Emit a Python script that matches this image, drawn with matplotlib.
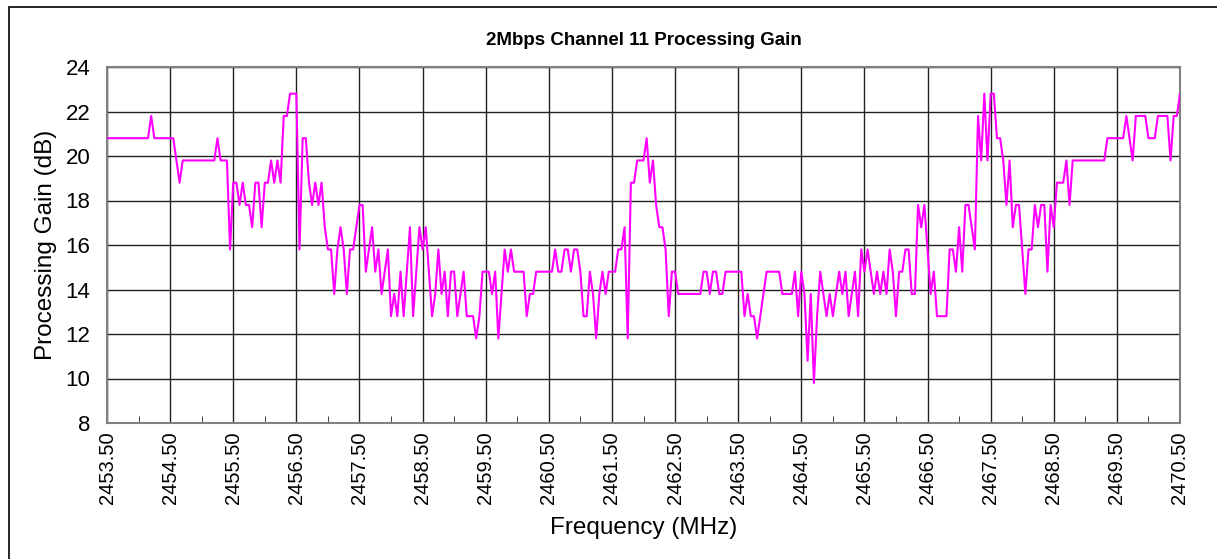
import numpy as np
import matplotlib
matplotlib.use('Agg')
import matplotlib.pyplot as plt
from matplotlib.patches import Rectangle

plt.rcParams['font.family'] = ['Liberation Sans', 'DejaVu Sans']

# processing gain (dB), one value every 0.05 MHz starting at 2453.50 MHz
gain = [
    20.8, 20.8, 20.8, 20.8, 20.8, 20.8, 20.8, 20.8, 20.8, 20.8, 20.8, 20.8, 20.8, 20.8, 21.8, 20.8, 20.8, 20.8, 20.8, 20.8,
    20.8, 20.8, 19.8, 18.8, 19.8, 19.8, 19.8, 19.8, 19.8, 19.8, 19.8, 19.8, 19.8, 19.8, 19.8, 20.8, 19.8, 19.8, 19.8, 15.8,
    18.8, 18.8, 17.8, 18.8, 17.8, 17.8, 16.8, 18.8, 18.8, 16.8, 18.8, 18.8, 19.8, 18.8, 19.8, 18.8, 21.8, 21.8, 22.8, 22.8,
    22.8, 15.8, 20.8, 20.8, 18.8, 17.8, 18.8, 17.8, 18.8, 16.8, 15.8, 15.8, 13.8, 15.8, 16.8, 15.8, 13.8, 15.8, 15.8, 16.8,
    17.8, 17.8, 14.8, 15.8, 16.8, 14.8, 15.8, 13.8, 14.8, 15.8, 12.8, 13.8, 12.8, 14.8, 12.8, 14.8, 16.8, 12.8, 14.8, 16.8,
    15.8, 16.8, 14.8, 12.8, 13.8, 15.8, 13.8, 14.8, 12.8, 14.8, 14.8, 12.8, 13.8, 14.8, 12.8, 12.8, 12.8, 11.8, 12.8, 14.8,
    14.8, 14.8, 13.8, 14.8, 11.8, 13.8, 15.8, 14.8, 15.8, 14.8, 14.8, 14.8, 14.8, 12.8, 13.8, 13.8, 14.8, 14.8, 14.8, 14.8,
    14.8, 14.8, 15.8, 14.8, 14.8, 15.8, 15.8, 14.8, 15.8, 15.8, 14.8, 12.8, 12.8, 14.8, 13.8, 11.8, 13.8, 14.8, 13.8, 14.8,
    14.8, 14.8, 15.8, 15.8, 16.8, 11.8, 18.8, 18.8, 19.8, 19.8, 19.8, 20.8, 18.8, 19.8, 17.8, 16.8, 16.8, 15.8, 12.8, 14.8,
    14.8, 13.8, 13.8, 13.8, 13.8, 13.8, 13.8, 13.8, 13.8, 14.8, 14.8, 13.8, 14.8, 14.8, 13.8, 13.8, 14.8, 14.8, 14.8, 14.8,
    14.8, 14.8, 12.8, 13.8, 12.8, 12.8, 11.8, 12.8, 13.8, 14.8, 14.8, 14.8, 14.8, 14.8, 13.8, 13.8, 13.8, 13.8, 14.8, 12.8,
    14.8, 13.8, 10.8, 13.8, 9.8, 12.8, 14.8, 13.8, 12.8, 13.8, 12.8, 13.8, 14.8, 13.8, 14.8, 12.8, 13.8, 14.8, 12.8, 15.8,
    14.8, 15.8, 14.8, 13.8, 14.8, 13.8, 14.8, 13.8, 15.8, 14.8, 12.8, 14.8, 14.8, 15.8, 15.8, 13.8, 13.8, 17.8, 16.8, 17.8,
    15.8, 13.8, 14.8, 12.8, 12.8, 12.8, 12.8, 15.8, 15.8, 14.8, 16.8, 14.8, 17.8, 17.8, 16.8, 15.8, 21.8, 19.8, 22.8, 19.8,
    22.8, 22.8, 20.8, 20.8, 19.8, 17.8, 19.8, 16.8, 17.8, 17.8, 15.8, 13.8, 15.8, 15.8, 17.8, 16.8, 17.8, 17.8, 14.8, 17.8,
    16.8, 18.8, 18.8, 18.8, 19.8, 17.8, 19.8, 19.8, 19.8, 19.8, 19.8, 19.8, 19.8, 19.8, 19.8, 19.8, 19.8, 20.8, 20.8, 20.8,
    20.8, 20.8, 20.8, 21.8, 20.8, 19.8, 21.8, 21.8, 21.8, 21.8, 20.8, 20.8, 20.8, 21.8, 21.8, 21.8, 21.8, 19.8, 21.8, 21.8,
    22.8,
]
f_start = 2453.5
f_step = 0.05
freq = f_start + f_step * np.arange(len(gain))

major_ticks = np.arange(2453.5, 2470.51, 1.0)
tick_labels = ['%.2f' % t for t in major_ticks]

fig = plt.figure(figsize=(12.17, 5.59), dpi=100)
ax = fig.add_axes([107 / 1217, 1 - 423 / 559, (1180 - 107) / 1217, (423 - 67) / 559])

# outer chart frame (only top/left visible in the image)
fig.patches.append(Rectangle((9 / 1217, -0.1), 1.2, 1 - 7 / 559 + 0.1,
                             transform=fig.transFigure, fill=False,
                             edgecolor='black', linewidth=1.2))

ax.plot(freq, gain, color='#FF00FF', linewidth=1.5, zorder=3)

ax.set_xlim(2453.5, 2470.5)
ax.set_ylim(8, 24)
ax.set_xticks(major_ticks)
ax.set_xticklabels(tick_labels, rotation=90, fontsize=14.5)
ax.set_xticks(major_ticks[:-1] + 0.5, minor=True)
ax.set_yticks(np.arange(8, 25, 2))
ax.tick_params(axis='y', labelsize=16, length=0, pad=12)
ax.tick_params(axis='x', which='major', direction='in', length=0, pad=6)
ax.tick_params(axis='x', which='minor', direction='in', length=5, color='#222222')

ax.grid(True, which='major', color='#222222', linewidth=1.0)
for side in ax.spines.values():
    side.set_color('#808080')
    side.set_linewidth(1.5)

ax.set_title('2Mbps Channel 11 Processing Gain', fontsize=13.5,
             fontweight='bold', pad=16)
ax.set_xlabel('Frequency (MHz)', fontsize=17.5, labelpad=9)
ax.set_ylabel('Processing Gain (dB)', fontsize=17.5, labelpad=6)

fig.savefig('out.png', dpi=100)
